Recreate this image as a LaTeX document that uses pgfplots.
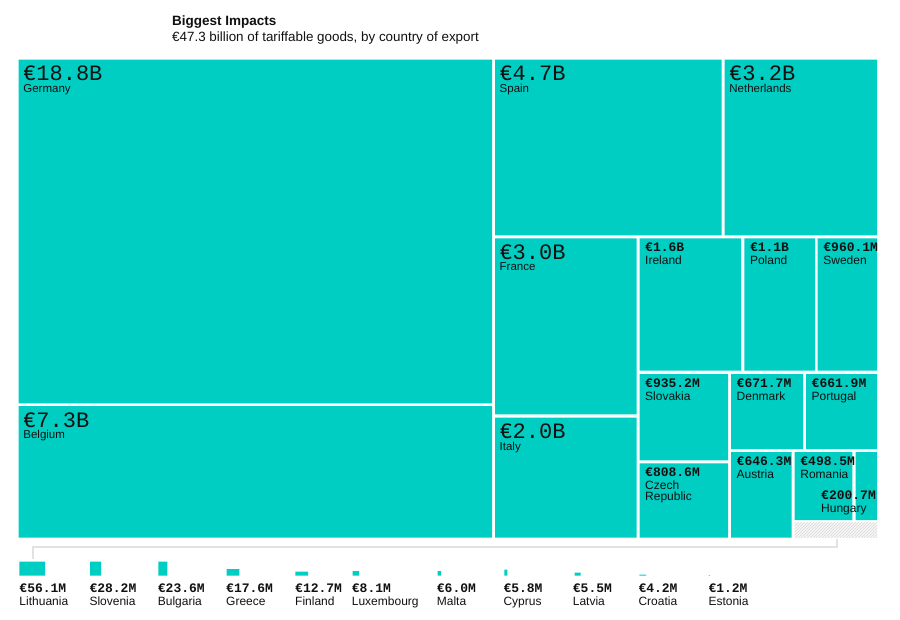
\documentclass[border=0pt]{standalone}
\usepackage{pgfplots}
\pgfplotsset{compat=1.18}
\usetikzlibrary{patterns}
\usepackage{fontspec}
\setmainfont{Liberation Sans}
\newfontfamily\mono{Liberation Mono}
\definecolor{tealc}{RGB}{0,206,194}
\definecolor{linegray}{RGB}{226,226,226}
\definecolor{txt}{RGB}{17,17,17}

\newcommand{\bigval}{\mono\fontsize{22}{24}\selectfont}
\newcommand{\smallval}{\mono\bfseries\fontsize{13}{14}\selectfont}
\newcommand{\nm}{\fontsize{12}{11.5}\selectfont}
\newcommand{\bnm}{\fontsize{11.5}{11.5}\selectfont}
\tikzset{lab/.style={anchor=base west, inner sep=0pt, text=txt},
         val/.style={lab, text depth=0pt},
         nam/.style={lab, font=\nm, text height=8.7pt},
         bnam/.style={lab, font=\bnm, text height=8.3pt}}

% big box: x1 y1 x2 y2 value name
\newcommand{\bigbox}[6]{%
  \addplot[fill=tealc, draw=none] coordinates {(#1,#2) (#3,#2) (#3,#4) (#1,#4) (#1,#2)};
  \node[val, font=\bigval] at (axis cs:#1+4.3,#2+21) {#5};
  \node[bnam] at (axis cs:#1+4.5,#2+32.6) {#6};
}
% small box
\newcommand{\smallbox}[6]{%
  \addplot[fill=tealc, draw=none] coordinates {(#1,#2) (#3,#2) (#3,#4) (#1,#4) (#1,#2)};
  \node[val, font=\smallval] at (axis cs:#1+5.5,#2+13.5) {#5};
  \node[nam] at (axis cs:#1+5.5,#2+26) {#6};
}
% bottom tiny item: x1 y1 x2 labelx value
\newcommand{\tinyitem}[5]{%
  \addplot[fill=tealc, draw=none] coordinates {(#1,#2) (#3,#2) (#3,575.7) (#1,575.7) (#1,#2)};
  \node[val, font=\smallval] at (axis cs:#4,592.3) {#5};
}

\begin{document}
\begin{tikzpicture}
\useasboundingbox (0,0) rectangle (900pt,619pt);
\begin{axis}[
  at={(0,0)}, anchor=south west,
  scale only axis, width=900pt, height=619pt,
  xmin=0, xmax=900, ymin=0, ymax=619, y dir=reverse,
  hide axis, clip=false,
]
% title
\node[lab, font=\bfseries\fontsize{13.5}{14}\selectfont] at (axis cs:172,25.5) {Biggest Impacts};
\node[lab, font=\fontsize{13.4}{14}\selectfont] at (axis cs:172,41.7) {€47.3 billion of tariffable goods, by country of export};

% big boxes
\bigbox{18.7}{59.7}{492.2}{403.3}{€18.8B}{Germany}
\bigbox{18.7}{406}{492.2}{537.7}{€7.3B}{Belgium}
\bigbox{495}{59.7}{721.5}{235.3}{€4.7B}{Spain}
\bigbox{724.7}{59.7}{877}{235.3}{€3.2B}{Netherlands}
\bigbox{495}{238.3}{636.7}{414.3}{€3.0B}{France}
\bigbox{495}{417.5}{636.7}{537.7}{€2.0B}{Italy}

% small boxes
\smallbox{639.5}{238.3}{741}{370.7}{€1.6B}{Ireland}
\smallbox{744.3}{238.3}{815}{370.7}{€1.1B}{Poland}
\smallbox{817.7}{238.3}{877}{370.7}{€960.1M}{Sweden}
\smallbox{639.5}{374}{728}{460.3}{€935.2M}{Slovakia}
\smallbox{639.5}{463.3}{728}{537.5}{€808.6M}{Czech}
\node[nam] at (axis cs:645,500.8) {Republic};
\smallbox{731}{374}{803}{449}{€671.7M}{Denmark}
\smallbox{806}{374}{877}{449}{€661.9M}{Portugal}
\smallbox{731}{452}{791.7}{537.5}{€646.3M}{Austria}
\smallbox{794.7}{452}{852.3}{520}{€498.5M}{Romania}
\addplot[fill=tealc, draw=none] coordinates {(855.7,452) (877,452) (877,520) (855.7,520) (855.7,452)};
\node[val, font=\smallval] at (axis cs:821,499.3) {€200.7M};
\node[nam] at (axis cs:821,512) {Hungary};

% hatched remainder
\addplot[fill=gray!6, draw=none] coordinates {(794.7,522.7) (877,522.7) (877,537.5) (794.7,537.5) (794.7,522.7)};
\addplot[pattern=north east lines, pattern color=gray!30, draw=none] coordinates {(794.7,522.7) (877,522.7) (877,537.5) (794.7,537.5) (794.7,522.7)};

% connector
\addplot[linegray, line width=2pt] coordinates {(33,559) (33,547.3) (836.7,547.3) (836.7,538.5)};

% bottom items
\tinyitem{19.3}{561.7}{45}{19.3}{€56.1M}
\tinyitem{90}{561.7}{101}{89.3}{€28.2M}
\tinyitem{158.3}{561.7}{167.3}{157.7}{€23.6M}
\tinyitem{226.7}{569}{239.3}{226}{€17.6M}
\tinyitem{295.3}{571.7}{308}{295}{€12.7M}
\tinyitem{352.7}{571}{359}{351.7}{€8.1M}
\tinyitem{437.7}{571}{441}{436.7}{€6.0M}
\tinyitem{504.3}{569.7}{507.3}{503.3}{€5.8M}
\tinyitem{574.7}{572.7}{580.7}{572.7}{€5.5M}
\tinyitem{639.3}{574.5}{646}{638.3}{€4.2M}
\tinyitem{708.5}{575}{709.8}{708.3}{€1.2M}
\node[nam] at (axis cs:19.3,605) {Lithuania};
\node[nam] at (axis cs:89.3,605) {Slovenia};
\node[nam] at (axis cs:157.7,605) {Bulgaria};
\node[nam] at (axis cs:226,605) {Greece};
\node[nam] at (axis cs:295,605) {Finland};
\node[nam] at (axis cs:351.7,605) {Luxembourg};
\node[nam] at (axis cs:436.7,605) {Malta};
\node[nam] at (axis cs:503.3,605) {Cyprus};
\node[nam] at (axis cs:572.7,605) {Latvia};
\node[nam] at (axis cs:638.3,605) {Croatia};
\node[nam] at (axis cs:708.3,605) {Estonia};
\end{axis}
\end{tikzpicture}
\end{document}
